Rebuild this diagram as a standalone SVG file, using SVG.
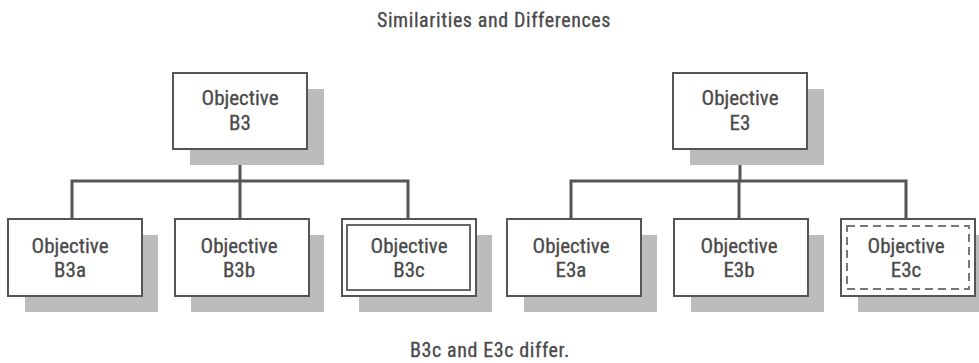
<svg xmlns="http://www.w3.org/2000/svg" width="979" height="363" viewBox="0 0 979 363">
<style>
.bg{fill:#fff}
.sh{fill:#bcbcbc}
.box{fill:#fff;stroke:#555;stroke-width:2}
.inner{fill:none;stroke:#666;stroke-width:2}
.dash{fill:none;stroke:#777;stroke-width:2;stroke-dasharray:8 5}
.ln{fill:none;stroke:#555;stroke-width:3}
text{font-family:"Liberation Sans Narrow","Roboto Condensed","Liberation Sans",Arial,sans-serif;fill:#4a4a4a;text-anchor:middle;stroke:#4a4a4a;stroke-width:0.3}
.t{font-size:21px}
.cap{font-size:20px;letter-spacing:0.6px}
</style>
<rect class="bg" x="0" y="0" width="979" height="363"/>
<text class="cap" x="494" y="27">Similarities and Differences</text>
<g id="connectors">
<path class="ln" d="M240 149V181M72 219V181H408V219M240 181V219"/>
<path class="ln" d="M740 149V181M571 219V181H906V219M739 181V219"/>
</g>
<g id="B3">
<rect class="sh" x="190" y="89" width="134" height="76"/>
<rect class="box" x="173" y="73" width="134" height="76"/>
<text class="t" x="240" y="105">Objective</text>
<text class="t" x="240" y="130">B3</text>
</g>
<g id="B3a">
<rect class="sh" x="25" y="235" width="133" height="77"/>
<rect class="box" x="8" y="219" width="134" height="77"/>
<text class="t" x="70" y="253">Objective</text>
<text class="t" x="70" y="277">B3a</text>
</g>
<g id="B3b">
<rect class="sh" x="191" y="235" width="133" height="77"/>
<rect class="box" x="175" y="219" width="134" height="77"/>
<text class="t" x="239" y="253">Objective</text>
<text class="t" x="239" y="277">B3b</text>
</g>
<g id="B3c">
<rect class="sh" x="359" y="235" width="133" height="77"/>
<rect class="box" x="342" y="219" width="134" height="77"/>
<rect class="inner" x="347" y="225" width="123" height="65"/>
<text class="t" x="409" y="253">Objective</text>
<text class="t" x="409" y="277">B3c</text>
</g>
<g id="E3">
<rect class="sh" x="690" y="89" width="134" height="76"/>
<rect class="box" x="673" y="73" width="134" height="76"/>
<text class="t" x="740" y="105">Objective</text>
<text class="t" x="740" y="130">E3</text>
</g>
<g id="E3a">
<rect class="sh" x="524" y="235" width="133" height="77"/>
<rect class="box" x="507" y="219" width="134" height="77"/>
<text class="t" x="571" y="253">Objective</text>
<text class="t" x="571" y="277">E3a</text>
</g>
<g id="E3b">
<rect class="sh" x="691" y="235" width="133" height="77"/>
<rect class="box" x="674" y="219" width="134" height="77"/>
<text class="t" x="739" y="253">Objective</text>
<text class="t" x="739" y="277">E3b</text>
</g>
<g id="E3c">
<rect class="sh" x="858" y="235" width="133" height="77"/>
<rect class="box" x="841" y="219" width="134" height="77"/>
<rect class="dash" x="847" y="226" width="122" height="63"/>
<text class="t" x="906" y="253">Objective</text>
<text class="t" x="906" y="277">E3c</text>
</g>
<text class="cap" x="490" y="357">B3c and E3c differ.</text>
</svg>
